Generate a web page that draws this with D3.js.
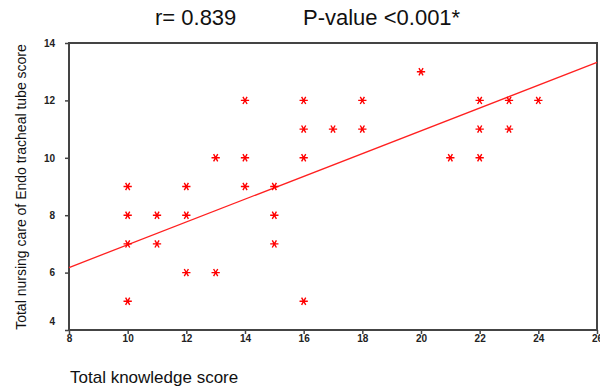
<!DOCTYPE html>
<html>
<head>
<meta charset="utf-8">
<script src="https://cdn.jsdelivr.net/npm/d3@7"></script>
<style>
  body { margin: 0; background: #fff; }
  svg { display: block; font-family: Arial, "Liberation Sans", sans-serif; }
</style>
</head>
<body>
<svg id="chart" width="600" height="392"></svg>
<script>
// knowledge score (x) and nursing care score (y), one pair per point
const knowledge = [10, 10, 10, 10, 11, 11, 12, 12, 12, 13, 13, 14, 14, 14, 15, 15, 15,
  16, 16, 16, 16, 17, 18, 18, 20, 21, 22, 22, 22, 23, 23, 24]
const nursing = [9, 8, 7, 5, 8, 7, 9, 8, 6, 10, 6, 12, 10, 9, 9, 8, 7,
  12, 11, 10, 5, 11, 12, 11, 13, 10, 12, 11, 10, 12, 11, 12]
const xTicks = [8, 10, 12, 14, 16, 18, 20, 22, 24, 26]
const yTicks = [4, 6, 8, 10, 12, 14]
const fitIntercept = 3.0
const fitSlope = 0.397

const svg = d3.select('#chart')
const margin = { left: 69, right: 3, top: 43, bottom: 62 }
const width = 600
const height = 392

const x = d3.scaleLinear().domain([8, 26]).range([margin.left, width - margin.right])
const y = d3.scaleLinear().domain([4, 14]).range([height - margin.bottom, margin.top])

// frame
svg.append('rect')
  .attr('x', x(8)).attr('y', y(14))
  .attr('width', x(26) - x(8)).attr('height', y(4) - y(14))
  .attr('fill', 'none').attr('stroke', '#444').attr('stroke-width', 2)

const xAxis = svg.append('g')
  .attr('transform', `translate(0,${y(4)})`)
  .call(d3.axisBottom(x).tickValues(xTicks).tickSize(4).tickPadding(1))
const yAxis = svg.append('g')
  .attr('transform', `translate(${x(8)},0)`)
  .call(d3.axisLeft(y).tickValues(yTicks).tickSize(4).tickPadding(10))

for (const ax of [xAxis, yAxis]) {
  ax.select('.domain').remove()
  ax.selectAll('line').attr('stroke', '#444').attr('stroke-width', 1.5)
  ax.selectAll('text')
    .attr('font-size', 10).attr('font-weight', 'bold')
    .attr('font-family', 'Arial, "Liberation Sans", sans-serif')
    .attr('fill', '#222')
}
// the lowest y label sits above the corner
yAxis.selectAll('.tick').filter(d => d === 4).select('text').attr('dy', '-0.6em')

// regression line
svg.append('line')
  .attr('x1', x(8)).attr('y1', y(fitIntercept + fitSlope * 8))
  .attr('x2', x(26)).attr('y2', y(fitIntercept + fitSlope * 26))
  .attr('stroke', '#ff2020').attr('stroke-width', 1.3)

// points
const star = d3.symbol().type(d3.symbolAsterisk).size(48)
svg.append('g')
  .selectAll('path')
  .data(knowledge.map((k, i) => [k, nursing[i]]))
  .join('path')
  .attr('d', star)
  .attr('transform', d => `translate(${x(d[0])},${y(d[1])}) rotate(90)`)
  .attr('fill', 'none')
  .attr('stroke', '#ff0000')
  .attr('stroke-width', 1.4)

// title
svg.append('text').attr('x', 155).attr('y', 25)
  .attr('font-size', 22).attr('fill', '#111').text('r= 0.839')
svg.append('text').attr('x', 303).attr('y', 25)
  .attr('font-size', 22).attr('fill', '#111').text('P-value <0.001*')

// axis titles
svg.append('text').attr('x', 70).attr('y', 383)
  .attr('font-size', 17).attr('fill', '#111').text('Total knowledge score')
svg.append('text')
  .attr('transform', 'translate(26,187) rotate(-90)')
  .attr('text-anchor', 'middle')
  .attr('font-size', 14).attr('fill', '#111')
  .text('Total nursing care of  Endo tracheal tube score')
</script>
</body>
</html>
